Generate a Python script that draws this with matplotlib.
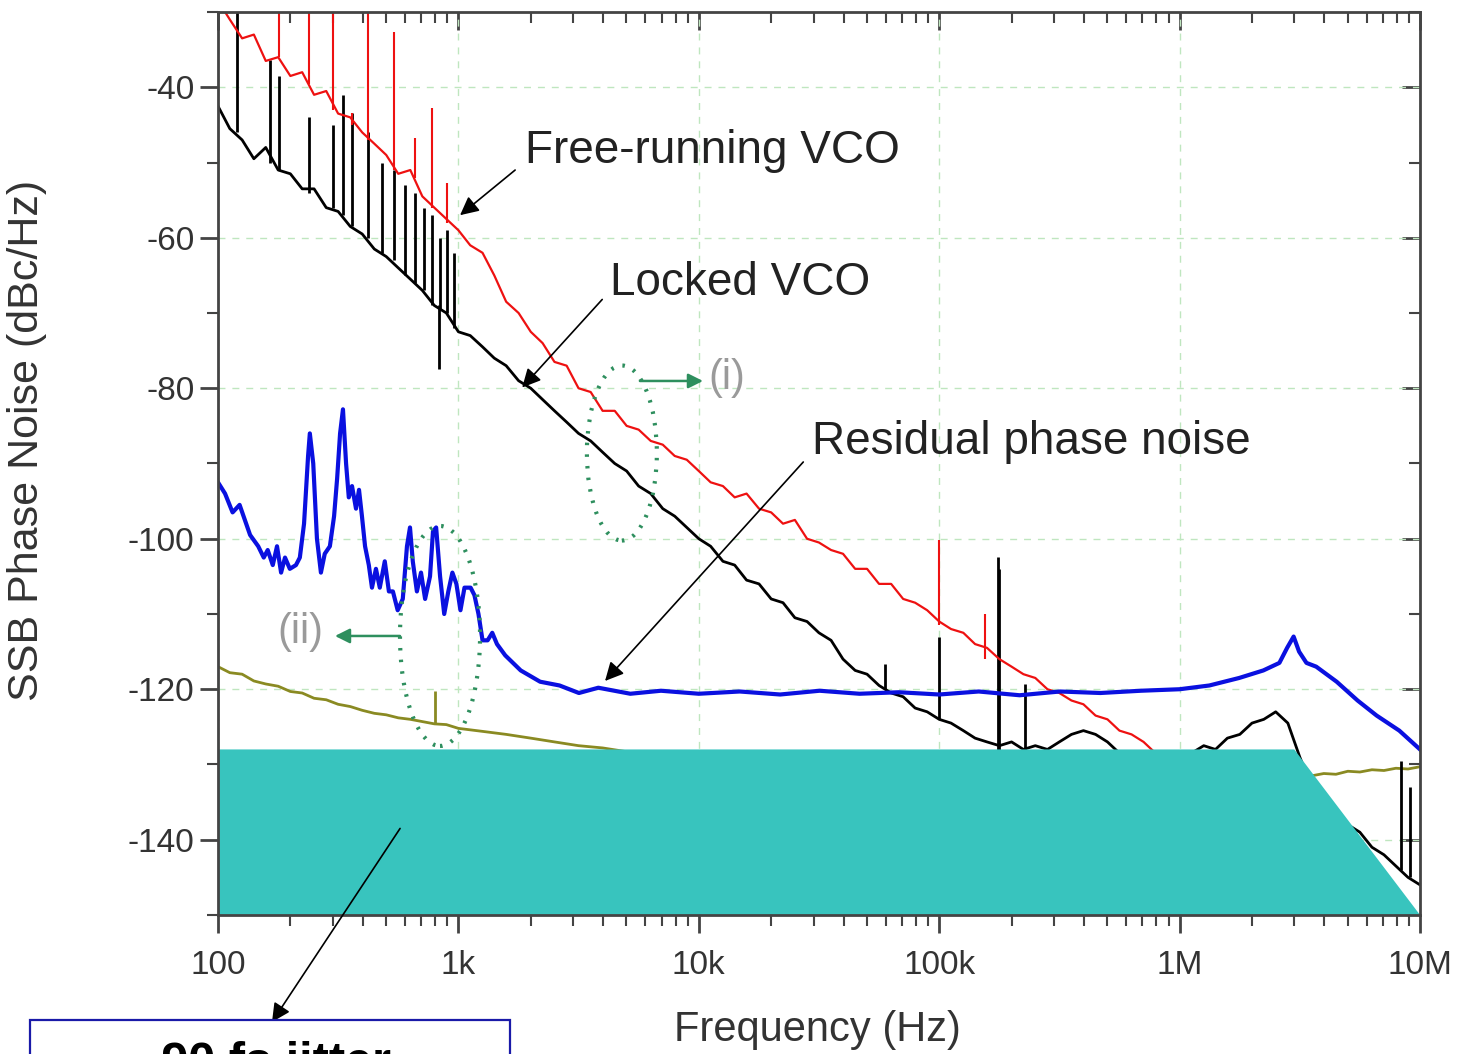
import matplotlib
matplotlib.use("Agg")
import matplotlib.pyplot as plt
from matplotlib.patches import Ellipse, Polygon, Rectangle

plt.rcParams['font.family'] = ['Liberation Sans', 'DejaVu Sans']
plt.rcParams['axes.unicode_minus'] = False

# common frequency grid (Hz) for the VCO traces
freq = [100, 112, 126, 141, 158, 178, 200, 224, 251, 282, 316, 355, 398, 447, 501, 562, 631, 708, 794, 891,
        1.00e3, 1.12e3, 1.26e3, 1.41e3, 1.58e3, 1.78e3, 2.00e3, 2.24e3, 2.51e3, 2.82e3,
        3.16e3, 3.55e3, 3.98e3, 4.47e3, 5.01e3, 5.62e3, 6.31e3, 7.08e3, 7.94e3, 8.91e3,
        1.00e4, 1.12e4, 1.26e4, 1.41e4, 1.58e4, 1.78e4, 2.00e4, 2.24e4, 2.51e4, 2.82e4,
        3.16e4, 3.55e4, 3.98e4, 4.47e4, 5.01e4, 5.62e4, 6.31e4, 7.08e4, 7.94e4, 8.91e4,
        1.00e5, 1.12e5, 1.26e5, 1.41e5, 1.58e5, 1.78e5, 2.00e5, 2.24e5, 2.51e5, 2.82e5,
        3.16e5, 3.55e5, 3.98e5, 4.47e5, 5.01e5, 5.62e5, 6.31e5, 7.08e5, 7.94e5, 8.91e5,
        1.00e6, 1.12e6, 1.26e6, 1.41e6, 1.58e6, 1.78e6, 2.00e6, 2.24e6, 2.51e6, 2.82e6,
        3.16e6, 3.55e6, 3.98e6, 4.47e6, 5.01e6, 5.62e6, 6.31e6, 7.08e6, 7.94e6, 8.91e6,
        1.00e7]

free_running = [-28.5, -31, -33.5, -33, -36.5, -36, -38.5, -38, -41, -40.5,
                -43.5, -44, -46, -47.5, -49, -51.5, -51, -54.5, -56, -57.5,
                -59, -61, -62, -65, -68.5, -70, -72.5, -74, -76.5, -77,
                -80, -80.5, -83, -83, -85, -85.5, -87, -87.5, -89, -89.5,
                -91, -92.5, -93, -94.5, -94, -96, -96.5, -98, -97.5, -100,
                -100.5, -101.5, -102, -104, -104, -106, -106, -108, -108.5, -109.5,
                -111, -112, -112.5, -114, -114.5, -116, -117, -118, -118.5, -120,
                -120.5, -121.5, -122, -123.5, -124, -125.5, -126, -127, -128.5, -129,
                -130.5, -131.5, -132.5, -134, -135, -136, -137, -138, -139, -140.5,
                -141, -142.5, -143.5, -144.5, -145.5, -146.5, -147.5, -148.5, -149, -150,
                -151]

locked = [-42.5, -45.5, -47, -49.5, -48, -51, -51.5, -53.5, -53.5, -56,
          -56.5, -58.5, -59.5, -61.5, -62.5, -64, -65.5, -67, -69, -70,
          -72.5, -73, -74.5, -76, -77, -79, -80, -81.5, -83, -84.5,
          -86, -87, -88.5, -90, -91, -93, -94, -96, -97, -98.5,
          -100, -101, -103, -103.5, -105.5, -106, -108, -108.5, -110.5, -111,
          -112.5, -113.5, -116, -117.5, -118, -119.5, -120.5, -121, -122.5, -123,
          -124, -124.5, -125.5, -126.5, -127, -127.5, -127, -128, -127.5, -128,
          -127, -126, -125.5, -126, -127, -128.5, -129, -130, -129.5, -129,
          -129, -128.5, -127.5, -128, -126.5, -126, -124.5, -124, -123, -124.5,
          -129, -133, -135, -136.5, -138, -139, -141, -142, -143.5, -145,
          -146]

# spurs: (frequency, floor, peak)
red_spur_f = [180, 240, 300, 361, 421, 540, 661, 778, 897, 1.0e5, 1.55e5]
red_spur_lo = [-36, -39.5, -43, -45, -47, -51, -52, -56, -58, -111.5, -116]
red_spur_hi = [-25, -25, -25, -43.4, -25, -32.6, -46.8, -42.8, -52.7, -100.2, -110]

black_spur_f = [120, 165, 180, 240, 300, 330, 361, 421, 480, 540, 600, 661, 720, 778, 840, 897, 960,
                5.97e4, 1.0e5, 1.75e5, 1.78e5, 2.28e5, 8.3e6, 9.1e6]
black_spur_lo = [-46, -50, -51, -54, -56, -57, -58.5, -60, -62, -63, -65, -66, -67, -69, -69.5, -70, -72,
                 -120, -124, -129, -129, -129, -144, -145]
black_spur_hi = [-29, -36.4, -38.5, -44, -45, -41, -43.4, -46, -50, -51, -53, -54, -56, -57, -60, -59, -62,
                 -116.6, -113, -102.4, -104, -119.3, -129.5, -133]
black_dip_f = [830]
black_dip_hi = [-69]
black_dip_lo = [-77.5]

residual_f = [100, 107, 115, 123, 136, 147, 155, 161, 169, 176, 183, 190, 199, 211, 219, 228, 237, 241,
              249, 258, 268, 278, 292, 304, 313, 322, 331, 341, 350, 361, 375, 386, 397, 409, 424, 437,
              454, 471, 494, 514, 534, 559, 587, 611, 629, 646, 672, 699, 727, 762, 784, 808, 839, 873,
              908, 944, 981, 1020, 1060, 1124, 1166, 1212, 1260, 1323, 1383, 1447, 1566, 1816, 2187,
              2634, 3172, 3820, 5190, 6960, 1.0e4, 1.48e4, 2.18e4, 3.18e4, 4.66e4, 6.8e4, 1.0e5,
              1.46e5, 2.16e5, 3.18e5, 4.68e5, 6.9e5, 1.0e6, 1.33e6, 1.77e6, 2.23e6, 2.6e6, 2.8e6,
              2.98e6, 3.14e6, 3.37e6, 3.7e6, 4.5e6, 5.5e6, 6.6e6, 8.2e6, 1.0e7]
residual = [-92.5, -94, -96.5, -95.5, -99.5, -101, -102.5, -101.5, -103.5, -101, -104.5, -102.5, -104,
            -103.5, -102.5, -98, -89, -86, -90, -100, -104.5, -102, -101, -97, -92, -86, -82.8, -90,
            -94.5, -93, -96, -93.5, -97, -101, -103.5, -106.5, -104, -106.5, -103, -107, -107, -109.5,
            -108, -101, -98.5, -103, -107, -104.5, -108, -105, -99, -98.5, -105, -110, -107, -104.5,
            -106, -109.5, -106.5, -106.5, -107.5, -110, -113.5, -113.5, -112.5, -114, -115.5, -117.5,
            -119, -119.5, -120.5, -119.8, -120.6, -120.2, -120.6, -120.3, -120.7, -120.2, -120.6,
            -120.4, -120.7, -120.3, -120.8, -120.3, -120.5, -120.2, -120.0, -119.5, -118.5, -117.5,
            -116.5, -114.5, -113, -115, -116.5, -117, -119, -121.5, -123.5, -125.5, -128]

floor_f = [100, 112, 126, 141, 158, 178, 200, 224, 251, 282, 316, 355, 398, 447, 501, 562, 631, 708,
           794, 891, 1000, 1260, 1580, 2000, 2510, 3160, 3980, 5010, 6310, 1.0e4, 3.16e4, 1.0e5, 3.16e5,
           1.0e6, 2.0e6, 3.16e6, 3.55e6, 3.98e6, 4.47e6, 5.01e6, 5.62e6, 6.31e6, 7.08e6, 7.94e6, 8.91e6,
           1.0e7]
floor = [-117, -117.8, -118, -118.9, -119.3, -119.6, -120.3, -120.5, -121.2, -121.4, -122, -122.3,
         -122.8, -123.2, -123.4, -123.8, -124, -124.3, -124.6, -124.7, -125.2, -125.6, -126, -126.5,
         -127, -127.5, -127.8, -128.3, -128.6, -129.5, -130.5, -131.5, -132.3, -132.8, -132.3, -131.6,
         -131.5, -131.2, -131.3, -130.9, -131, -130.7, -130.8, -130.5, -130.6, -130.3]
floor_spur = (800, -124.6, -120.3)

# teal cover shape (freq, dB)
cover_f = [100, 3.0e6, 1.0e7, 100]
cover_db = [-128, -128, -150, -150]

xticks = [1e2, 1e3, 1e4, 1e5, 1e6, 1e7]
xtick_labels = ["100", "1k", "10k", "100k", "1M", "10M"]
yticks = [-140, -120, -100, -80, -60, -40]
yminor = [-150, -130, -110, -90, -70, -50, -30]

fig = plt.figure(figsize=(14.65, 10.54), dpi=100)
ax = fig.add_axes([0.1488, 0.1319, 0.8205, 0.8567])

grid_col = "#bfe6bf"
ax.set_xscale("log")
ax.set_xlim(1e2, 1e7)
ax.set_ylim(-150, -30.5)
ax.grid(which="major", color=grid_col, ls=(0, (5, 5)), lw=1.0, zorder=0)

# traces
ax.plot(floor_f, floor, color="#8a8a22", lw=2.0, zorder=2)
ax.vlines(floor_spur[0], floor_spur[1], floor_spur[2], color="#8a8a22", lw=2.0, zorder=2)
ax.plot(freq, locked, color="black", lw=2.0, zorder=3)
ax.vlines(black_spur_f, black_spur_lo, black_spur_hi, color="black", lw=2.0, zorder=3)
ax.vlines(black_dip_f, black_dip_lo, black_dip_hi, color="black", lw=2.0, zorder=3)
ax.plot(freq, free_running, color="#ee1111", lw=1.6, zorder=4)
ax.vlines(red_spur_f, red_spur_lo, red_spur_hi, color="#ee1111", lw=1.5, zorder=4)
ax.plot(residual_f, residual, color="#0a10e0", lw=3.0, zorder=5)

ax.add_patch(Polygon(list(zip(cover_f, cover_db)), closed=True, facecolor="#38c4be",
                     edgecolor="none", zorder=6))

# axes styling
for side in ax.spines.values():
    side.set_color("#444444")
    side.set_linewidth(2)
    side.set_zorder(8)
ax.set_xticks(xticks, xtick_labels)
ax.set_yticks(yticks)
ax.set_yticks(yminor, minor=True)
ax.tick_params(which="major", direction="out", length=13, width=2, color="#444444",
               labelsize=24, labelcolor="#333333")
ax.tick_params(axis="x", which="major", pad=12)
ax.tick_params(axis="y", which="major", pad=4)
ax.tick_params(which="minor", direction="out", length=8, width=1.5, color="#444444")

top = ax.secondary_xaxis("top")
top.set_xticks(xticks, ["" for _ in xticks])
top.tick_params(which="major", direction="in", length=13, width=2, color="#444444")
top.tick_params(which="minor", direction="in", length=8, width=1.5, color="#444444")
right = ax.secondary_yaxis("right")
right.set_yticks(yticks, ["" for _ in yticks])
right.set_yticks(yminor, minor=True)
right.tick_params(which="major", direction="in", length=13, width=2, color="#444444")
right.tick_params(which="minor", direction="in", length=8, width=1.5, color="#444444")
for sec in (top, right):
    for side in sec.spines.values():
        side.set_visible(False)

ax.set_xlabel("Frequency (Hz)", fontsize=30, color="#333333")
ax.set_ylabel("SSB Phase Noise (dBc/Hz)", fontsize=31, color="#333333")
ax.xaxis.set_label_coords(0.499, -0.105)
ax.yaxis.set_label_coords(-0.142, 0.526)

# curve annotations
arrow_kw = dict(arrowstyle="-|>", color="black", lw=1.2, mutation_scale=28, shrinkA=0, shrinkB=0)
ax.annotate("", xy=(1016, -57), xytext=(1722, -51), arrowprops=arrow_kw, zorder=7)
ax.text(1897, -48.5, "Free-running VCO", fontsize=33, color="#222222", va="center", ha="left")
ax.annotate("", xy=(1842, -79.9), xytext=(3965, -68.2), arrowprops=arrow_kw, zorder=7)
ax.text(4276, -66, "Locked VCO", fontsize=33, color="#222222", va="center", ha="left")
ax.annotate("", xy=(4074, -118.9), xytext=(2.72e4, -89.8), arrowprops=arrow_kw, zorder=7)
ax.text(2.96e4, -87.2, "Residual phase noise", fontsize=33, color="#222222", va="center", ha="left")

# dotted regions (i) and (ii)
green = "#2e8f5e"
for cx, cy, w, h in [(0.336, 0.5116, 0.0582, 0.1938), (0.1847, 0.309, 0.0666, 0.2436)]:
    ax.add_patch(Ellipse((cx, cy), w, h, transform=ax.transAxes, fill=False, edgecolor=green,
                         lw=3, ls=(0, (0.6, 2.2)), zorder=9, clip_on=False))
g_kw = dict(arrowstyle="-|>", color=green, lw=1.8, mutation_scale=22, shrinkA=0, shrinkB=0)
ax.annotate("", xy=(0.4035, 0.5914), xytext=(0.351, 0.5914), xycoords="axes fraction",
            textcoords="axes fraction", arrowprops=g_kw)
ax.annotate("", xy=(0.0973, 0.309), xytext=(0.1514, 0.309), xycoords="axes fraction",
            textcoords="axes fraction", arrowprops=g_kw)
ax.text(0.4235, 0.5947, "(i)", transform=ax.transAxes, fontsize=30, color="#9a9a9a",
        ha="center", va="center")
ax.text(0.0682, 0.3134, "(ii)", transform=ax.transAxes, fontsize=30, color="#9a9a9a",
        ha="center", va="center")

# jitter box at the bottom, cut by the figure edge as in the source
fig.patches.append(Rectangle((30 / 1465, -0.05), 480 / 1465, 0.05 + 34 / 1054,
                             transform=fig.transFigure, facecolor="white", edgecolor="#1a1aa8",
                             lw=1.6, zorder=10))
fig.text(262 / 1465, -22 / 1054, "~90 fs jitter", fontsize=35, fontweight="bold",
         ha="center", va="baseline", zorder=11)
ax.annotate("", xy=(272 / 1465, 32 / 1054), xycoords="figure fraction",
            xytext=(572, -138.5), textcoords="data", arrowprops=arrow_kw,
            zorder=12, annotation_clip=False)

fig.savefig("out.png", dpi=100)
